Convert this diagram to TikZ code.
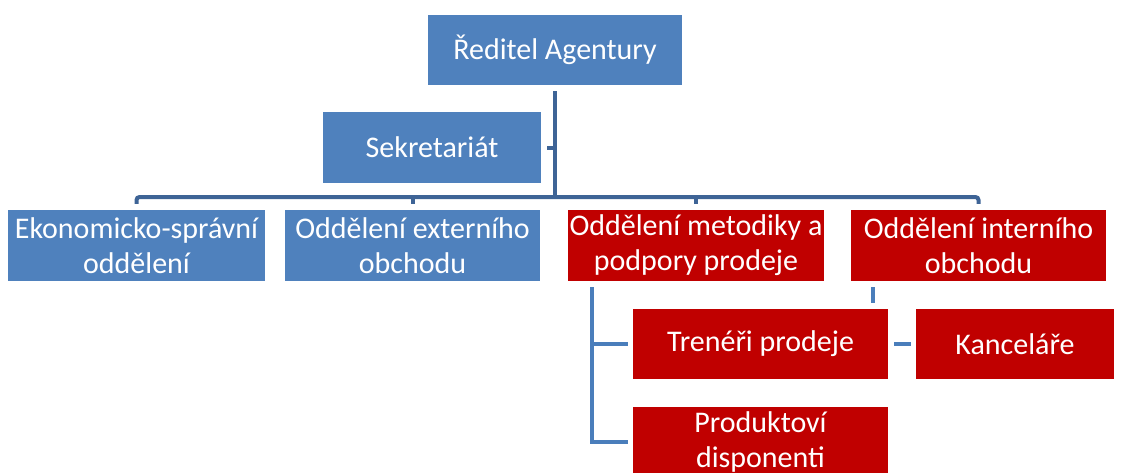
\documentclass[tikz,border=0pt]{standalone}
\usepackage{fontspec}
\setmainfont{Carlito}
\begin{document}
\begin{tikzpicture}[x=1pt,y=-1pt,
  box/.style={inner sep=0pt, align=center, text=white,
    font=\fontsize{30}{35}\selectfont, minimum height=71pt},
  bluebox/.style={box, fill=boxblue},
  redbox/.style={box, fill=boxred},
  conn/.style={draw=lineblue, line width=4pt},
  conntop/.style={draw=linedark, line width=4pt}]
\definecolor{boxblue}{HTML}{4F81BD}
\definecolor{boxred}{HTML}{C00000}
\definecolor{lineblue}{HTML}{4A7EBB}
\definecolor{linedark}{HTML}{3E6496}
\useasboundingbox (0,0) rectangle (1122,472);
\node[bluebox, minimum width=254pt, minimum height=70pt] (dir) at (555,50) {Ředitel Agentury};
\node[bluebox, minimum width=218pt] (sek) at (432,147.5) {Sekretariát};
\node[bluebox, minimum width=257pt] (eko) at (136.5,245.5) {Ekonomicko-správní\\oddělení};
\node[bluebox, minimum width=255pt] (ext) at (412.5,245.5) {Oddělení externího\\obchodu};
\node[redbox, minimum width=256pt] (met) at (696,245.5) {Oddělení metodiky a\\podpory prodeje};
\node[redbox, minimum width=255pt] (int) at (978.5,245.5) {Oddělení interního\\obchodu};
\node[redbox, minimum width=255pt, minimum height=70pt] (tre) at (760.5,344) {Trenéři prodeje};
\node[redbox, minimum width=198pt, minimum height=70pt] (kan) at (1015,344) {Kanceláře};
\node[redbox, minimum width=255pt, minimum height=70pt] (pro) at (760.5,442) {Produktoví\\disponenti};
\coordinate (bus) at (555,197);
\coordinate (mline) at (592,0);
\coordinate (iline) at (873,0);
% top structure
\draw[conntop] ([yshift=-6pt]dir.south) -- (dir.south |- bus);
\draw[conntop] ([xshift=6pt]sek.east) -- (sek.east -| dir.south);
\draw[conntop, rounded corners=3pt] ([yshift=6pt]eko.north) -- (eko.north |- bus) -- (int.north |- bus) -- ([yshift=6pt]int.north);
\draw[conntop] ([yshift=6pt]ext.north) -- (ext.north |- bus);
\draw[conntop] ([yshift=6pt]met.north) -- (met.north |- bus);
% lower structure
\draw[conn] ([yshift=-6pt]met.south -| mline) -- (mline |- pro.west) -- ([xshift=-5pt]pro.west);
\draw[conn] (mline |- tre.west) -- ([xshift=-5pt]tre.west);
\draw[conn] ([yshift=-6pt]int.south -| iline) -- ([yshift=6pt]tre.north -| iline);
\draw[conn] ([xshift=6pt]tre.east) -- ([xshift=-5pt]kan.west);
\end{tikzpicture}
\end{document}
